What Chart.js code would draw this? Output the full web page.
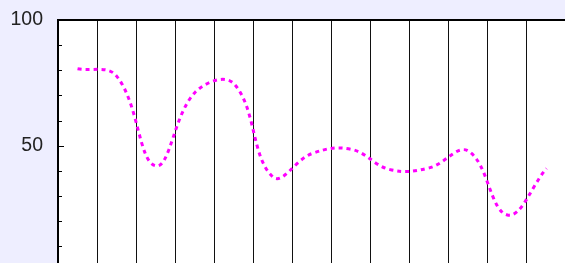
<!DOCTYPE html>
<html>
<head>
<meta charset="utf-8">
<script src="https://cdn.jsdelivr.net/npm/chart.js@4/dist/chart.umd.min.js"></script>
<style>
  html, body { margin: 0; padding: 0; background: #eeeeff; overflow: hidden; }
  #wrap { position: absolute; left: 0; top: 0; }
</style>
</head>
<body>
<div id="wrap"><canvas id="line-chart" width="566" height="284"></canvas></div>
<script>
// chart data
var categories = ["1", "2", "3", "4", "5", "6", "7", "8", "9", "10", "11", "12", "13"];
var seriesValues = [80.6, 77.7, 42, 71.1, 74.7, 37.6, 46.9, 48.6, 40.5, 41.2, 47.9, 22.5, 41];
var yTickLabels = [0, 50, 100];

// white plot area, top frame and small inward ticks on the y axis
var frameAndTicks = {
    id: 'frameAndTicks',
    beforeDraw: function(chart){
        var ctx = chart.ctx, a = chart.chartArea;
        ctx.save();
        ctx.fillStyle = '#ffffff';
        ctx.fillRect(a.left, a.top, a.right - a.left, a.bottom - a.top);
        ctx.restore();
    },
    afterDraw: function(chart){
        var ctx = chart.ctx, a = chart.chartArea, y = chart.scales.y;
        ctx.save();
        ctx.strokeStyle = '#000000';
        ctx.lineWidth = 2;
        ctx.beginPath();
        ctx.moveTo(a.left - 1, a.top);
        ctx.lineTo(a.right, a.top);
        ctx.stroke();
        ctx.lineWidth = 1;
        y.ticks.forEach(function(t){
            var py = Math.round(y.getPixelForValue(t.value)) + 0.5;
            var len = yTickLabels.indexOf(t.value) >= 0 ? 6 : 4;
            ctx.beginPath();
            ctx.moveTo(a.left, py);
            ctx.lineTo(a.left + len, py);
            ctx.stroke();
        });
        ctx.restore();
    }
};

function createLineChart(){
    new Chart(document.getElementById("line-chart"), {
        type: 'line',
        data: {
            labels: categories,
            datasets: [{
                data: seriesValues,
                borderColor: '#ff00ff',
                borderWidth: 3,
                borderDash: [4, 4],
                pointRadius: 0,
                fill: false,
                tension: 0.4
            }]
        },
        options: {
            responsive: false,
            animation: false,
            layout: { padding: { left: 0, top: 20, right: 0, bottom: 12.5 } },
            plugins: { legend: { display: false }, tooltip: { enabled: false } },
            scales: {
                x: {
                    type: 'category',
                    offset: true,
                    grid: { display: true, offset: true, color: '#111111', lineWidth: 1, drawTicks: false },
                    border: { display: false },
                    ticks: { display: false }
                },
                y: {
                    min: 0,
                    max: 100,
                    afterFit: function(scale){ scale.width = 58; },
                    // tick marks are drawn by the plugin; tickLength only spaces the labels
                    grid: { display: false, drawTicks: true, tickLength: 15 },
                    border: { display: true, color: '#000000', width: 2 },
                    ticks: {
                        stepSize: 10,
                        autoSkip: false,
                        padding: 0,
                        color: '#222222',
                        font: { family: 'Liberation Sans, Arial, sans-serif', size: 19.5 },
                        callback: function(v){ return yTickLabels.indexOf(v) >= 0 ? String(v) : ''; }
                    }
                }
            }
        },
        plugins: [frameAndTicks]
    });
}

createLineChart();
</script>
</body>
</html>
